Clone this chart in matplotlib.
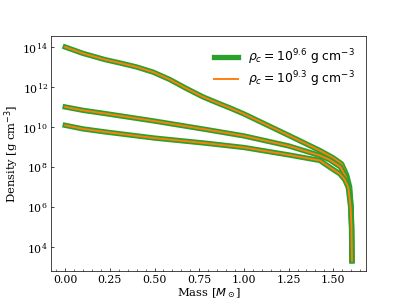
import matplotlib
matplotlib.use("Agg")
import matplotlib.pyplot as plt
import numpy as np

plt.rcParams['font.family'] = 'serif'
plt.rcParams['font.serif'] = ['DejaVu Serif']
plt.rcParams['mathtext.fontset'] = 'dejavusans'

# profiles: mass [Msun], log10 density [g cm^-3]
mass_a = [0.0, 0.1, 0.223, 0.307, 0.4, 0.493, 0.586, 0.679, 0.772, 0.866,
          0.922, 1.0, 1.25, 1.425, 1.5, 1.547, 1.575, 1.592, 1.600, 1.603, 1.605]
logrho_a = [14.0, 13.68, 13.37, 13.2, 13.0, 12.74, 12.37, 11.92, 11.5, 11.15,
            10.95, 10.65, 9.58, 8.82, 8.45, 8.15, 7.6, 7.0, 6.0, 5.0, 3.3]

mass_b = [0.0, 0.1, 0.223, 0.502, 0.782, 1.0, 1.25, 1.425, 1.481, 1.54, 1.57,
          1.59, 1.60, 1.603, 1.605]
logrho_b = [11.0, 10.83, 10.67, 10.29, 9.88, 9.55, 9.05, 8.57, 8.35, 8.0, 7.5,
            6.9, 6.0, 5.0, 3.3]

mass_c = [0.0, 0.1, 0.223, 0.502, 0.782, 1.0, 1.25, 1.425, 1.481, 1.537, 1.565,
          1.584, 1.597, 1.602, 1.605]
logrho_c = [10.08, 9.9, 9.75, 9.44, 9.19, 8.97, 8.6, 8.32, 7.98, 7.65, 7.35,
            6.97, 6.0, 5.0, 3.3]

profiles = [(mass_a, logrho_a), (mass_b, logrho_b), (mass_c, logrho_c)]
labels = [r'$\rho_c = 10^{9.6}$ g cm$^{-3}$', r'$\rho_c = 10^{9.3}$ g cm$^{-3}$']

fig, ax = plt.subplots(figsize=(6.4, 4.8), dpi=63.6)

for i, (m, lr) in enumerate(profiles):
    rho = 10 ** np.array(lr)
    ax.plot(m, rho, color='tab:green', lw=6, label=labels[0] if i == 0 else None)
    ax.plot(m, rho, color='tab:orange', lw=2.2, label=labels[1] if i == 0 else None)

ax.set_yscale('log')
ax.set_xlabel(r'Mass [$M_\odot$]', fontsize=13, labelpad=2)
ax.set_ylabel(r'Density [g cm$^{-3}$]', fontsize=13, labelpad=2)
ax.xaxis.set_major_locator(matplotlib.ticker.MultipleLocator(0.25))
ax.xaxis.set_minor_locator(matplotlib.ticker.MultipleLocator(0.05))
ax.tick_params(which='both', direction='in', labelsize=12.5)
ax.legend(frameon=False, loc='upper right', labelspacing=0.2,
          prop={'family': 'sans-serif', 'size': 14})

fig.savefig('out.png', dpi=63.6)
